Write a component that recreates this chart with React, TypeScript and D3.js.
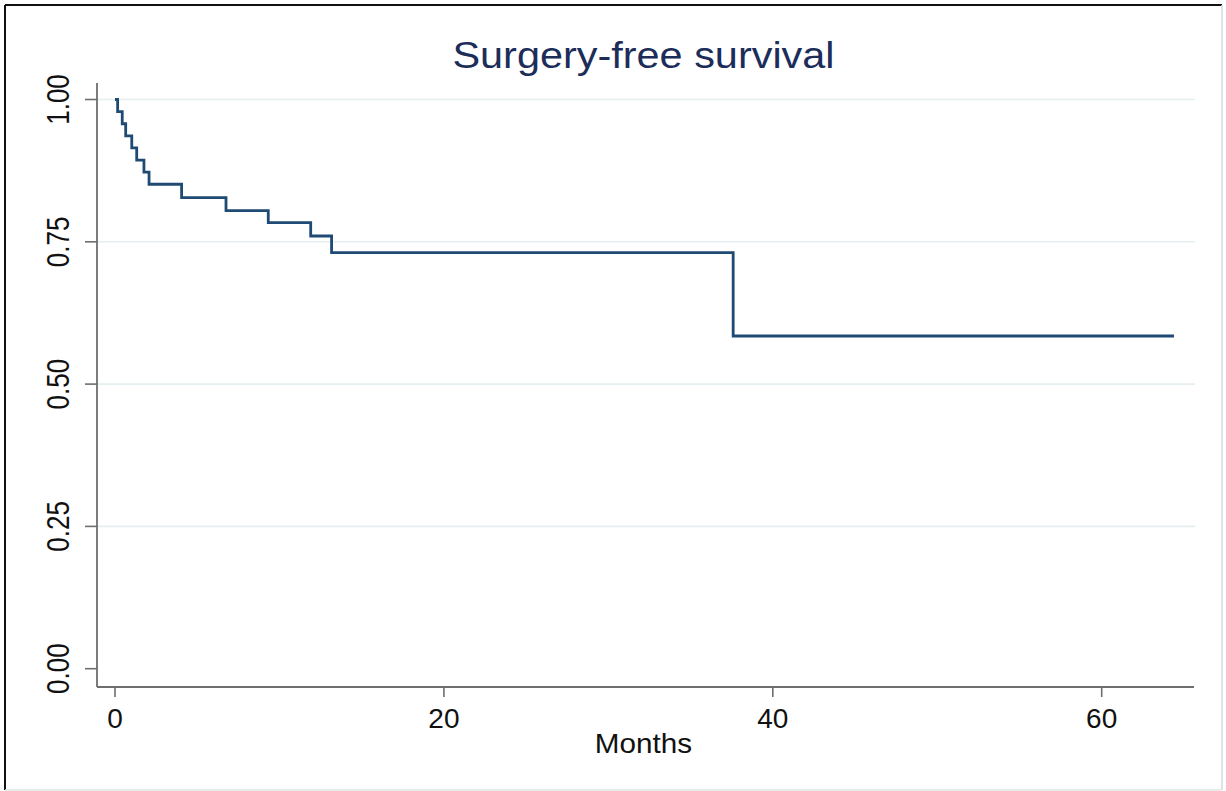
import React from "react";
import * as d3 from "d3";

const timeMonths = [0, 0.16, 0.44, 0.65, 1.02, 1.32, 1.76, 2.07, 4.05, 6.75, 9.32, 11.9, 13.17, 37.59, 64.4];
const survival = [1, 0.9787, 0.9574, 0.9362, 0.9149, 0.8936, 0.8723, 0.8511, 0.8275, 0.8046, 0.7836, 0.7602, 0.7309, 0.5845, 0.5845];
const xTicks = [0, 20, 40, 60];
const yTicks = [0, 0.25, 0.5, 0.75, 1];
const yGrid = [0.25, 0.5, 0.75, 1];

const W = 1226;
const H = 791;

export default function App() {
  const x = d3.scaleLinear().domain([0, 60]).range([115, 1101.7]);
  const y = d3.scaleLinear().domain([0, 1]).range([668.7, 99.5]);
  const pts = timeMonths.map((t, i) => [t, survival[i]] as [number, number]);
  const line = d3
    .line<[number, number]>()
    .x((d) => x(d[0]))
    .y((d) => y(d[1]))
    .curve(d3.curveStepAfter);

  const axisColor = "#6e6e6e";
  const font = "'Liberation Sans', Arial, sans-serif";

  return (
    <svg
      width={W}
      height={H}
      style={{ position: "absolute", left: 0, top: 0, background: "#fff" }}
    >
      <rect x={0} y={0} width={W} height={H} fill="#fff" />
      {/* frame */}
      <line x1={5} y1={5} x2={1222} y2={5} stroke="#111" strokeWidth={2} />
      <line x1={5} y1={5} x2={5} y2={790} stroke="#111" strokeWidth={2} />
      <line x1={1222} y1={5} x2={1222} y2={790} stroke="#d8d8d8" strokeWidth={1.5} />
      <line x1={5} y1={790} x2={1222} y2={790} stroke="#e4e4e4" strokeWidth={1.5} />

      {/* title */}
      <text
        transform={`translate(643.5,68) scale(1.12,1)`}
        textAnchor="middle"
        fontFamily={font}
        fontSize={37}
        fill="#1c2d5a"
      >
        Surgery-free survival
      </text>

      {/* gridlines */}
      {yGrid.map((v) => (
        <line key={"g" + v} x1={98} x2={1195} y1={y(v)} y2={y(v)} stroke="#e5eef0" strokeWidth={1.6} />
      ))}

      {/* y axis */}
      <line x1={97} x2={97} y1={83} y2={687} stroke={axisColor} strokeWidth={1.8} />
      {yTicks.map((v) => (
        <g key={"y" + v}>
          <line x1={85} x2={97} y1={y(v)} y2={y(v)} stroke={axisColor} strokeWidth={1.6} />
          <text
            transform={`translate(69,${y(v)}) rotate(-90) scale(0.84,1)`}
            textAnchor="middle"
            fontFamily={font}
            fontSize={31}
            fill="#111"
          >
            {v.toFixed(2)}
          </text>
        </g>
      ))}

      {/* x axis */}
      <line x1={97} x2={1194} y1={687} y2={687} stroke={axisColor} strokeWidth={1.8} />
      {xTicks.map((v) => (
        <g key={"x" + v}>
          <line x1={x(v)} x2={x(v)} y1={687} y2={697} stroke={axisColor} strokeWidth={1.6} />
          <text x={x(v)} y={728} textAnchor="middle" fontFamily={font} fontSize={28} fill="#111">
            {v}
          </text>
        </g>
      ))}
      <text
        transform={`translate(643.5,753) scale(1.06,1)`}
        textAnchor="middle"
        fontFamily={font}
        fontSize={28}
        fill="#111"
      >
        Months
      </text>

      {/* KM curve */}
      <path d={line(pts) || ""} fill="none" stroke="#1f4a73" strokeWidth={2.8} strokeLinejoin="miter" />
    </svg>
  );
}
